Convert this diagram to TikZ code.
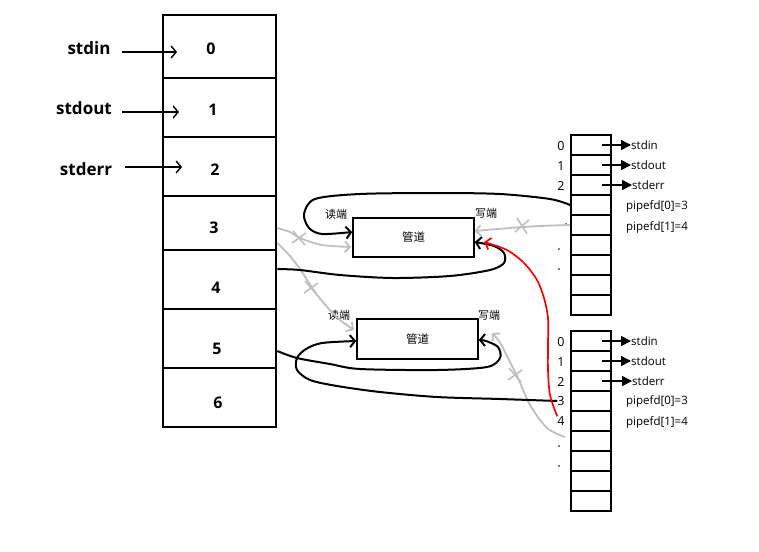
\documentclass[tikz,border=0pt]{standalone}
\usepackage{fontspec}
\setmainfont{Open Sans}
\newfontfamily\cjk{Noto Sans CJK SC}
\usetikzlibrary{arrows.meta,calc}
\begin{document}
\begin{tikzpicture}[x=1pt,y=-1pt,
  lcell/.style={draw, line width=2.6pt, minimum width=113pt, inner sep=0pt},
  rcell/.style={draw, line width=1.8pt, minimum width=40pt, minimum height=20pt, inner sep=0pt},
  pipebox/.style={draw, line width=1.5pt, minimum width=121pt, minimum height=39pt, inner sep=0pt, font=\cjk\fontsize{11.5}{11.5}\selectfont},
  bigtxt/.style={inner sep=0pt, font=\bfseries\fontsize{17}{17}\selectfont},
  numtxt/.style={inner sep=0pt, font=\fontsize{16}{16}\selectfont\bfseries},
  smalltxt/.style={inner sep=0pt, font=\fontsize{11.5}{11.5}\selectfont},
  cjktxt/.style={inner sep=0pt, font=\cjk\fontsize{11}{11}\selectfont},
  idxtxt/.style={inner sep=0pt, font=\fontsize{12.5}{12.5}\selectfont},
  larrow/.style={line width=2.6pt, -{Straight Barb[length=5pt,width=12pt,line width=1.4pt]}},
  rarrow/.style={line width=1.5pt, -{Triangle[length=10pt,width=10pt]}},
  hand/.style={line width=2pt, black, -{Straight Barb[length=5pt,width=12pt,line width=2pt]}},
  graycon/.style={line width=1.8pt, color=black!25, -{Straight Barb[length=5pt,width=11pt,line width=1.8pt]}},
  redcon/.style={line width=1.7pt, red, -{Straight Barb[length=5pt,width=12pt,line width=1.7pt]}},
  xmark/.style={line width=1.6pt, color=black!25},
  dotmk/.style={fill=black, circle, inner sep=0pt, minimum size=1.8pt}
]
\useasboundingbox[fill=white] (0,0) rectangle (759,551);

% left fd table
\node[lcell, minimum height=63pt] (L0) at (219.5,46.5) {};
\node[lcell, minimum height=59pt] (L1) at (219.5,107.5) {};
\node[lcell, minimum height=59pt] (L2) at (219.5,166.5) {};
\node[lcell, minimum height=54pt] (L3) at (219.5,223) {};
\node[lcell, minimum height=59pt] (L4) at (219.5,279.5) {};
\node[lcell, minimum height=59pt] (L5) at (219.5,338.5) {};
\node[lcell, minimum height=59pt] (L6) at (219.5,397.5) {};
\node[numtxt] (n0) at (211,49) {0};
\node[numtxt] (n1) at (213,110) {1};
\node[numtxt] (n2) at (215,170) {2};
\node[numtxt] (n3) at (214,228) {3};
\node[numtxt] (n4) at (216,288) {4};
\node[numtxt] (n5) at (217,349) {5};
\node[numtxt] (n6) at (218,403) {6};

\node[bigtxt] (sin) at (89,48) {stdin};
\node[bigtxt] (sout) at (84,108) {stdout};
\node[bigtxt] (serr) at (86,169) {stderr};
\coordinate (a0) at (177,52);
\coordinate (a1) at (179,112);
\coordinate (a2) at (182,167);
\draw[larrow] ([xshift=11pt]sin.east |- a0) -- (a0);
\draw[larrow] ([xshift=10pt]sout.east |- a1) -- (a1);
\draw[larrow] ([xshift=13pt]serr.east |- a2) -- (a2);

% right tables
\foreach \i in {0,...,8} {
  \node[rcell] (TA\i) at (591,145+20*\i) {};
  \node[rcell] (TB\i) at (591,341+20*\i) {};
}
\node[idxtxt] (ia0) at (561,146) {0};
\node[idxtxt] (ia1) at (561,166) {1};
\node[idxtxt] (ia2) at (561,186) {2};
\node[idxtxt] (ib0) at (561,342) {0};
\node[idxtxt] (ib1) at (561,362) {1};
\node[idxtxt] (ib2) at (561,382) {2};
\node[idxtxt] (ib3) at (561,401) {3};
\node[idxtxt] (ib4) at (561,421) {4};
\node[dotmk] (da1) at (566,224) {};
\node[dotmk] (da2) at (559,249) {};
\node[dotmk] (da3) at (559,269) {};
\node[dotmk] (db1) at (559,446) {};
\node[dotmk] (db2) at (559,466) {};

\node[smalltxt, anchor=west] (ra0) at (631,145) {stdin};
\node[smalltxt, anchor=west] (ra1) at (631,165) {stdout};
\node[smalltxt, anchor=west] (ra2) at (632,185) {stderr};
\node[smalltxt] (pa0) at (657,206) {pipefd[0]=3};
\node[smalltxt] (pa1) at (657,227) {pipefd[1]=4};
\node[smalltxt, anchor=west] (rb0) at (631,341) {stdin};
\node[smalltxt, anchor=west] (rb1) at (631,361) {stdout};
\node[smalltxt, anchor=west] (rb2) at (632,381) {stderr};
\node[smalltxt] (pb0) at (657,401) {pipefd[0]=3};
\node[smalltxt] (pb1) at (657,422) {pipefd[1]=4};
\draw[rarrow] ([xshift=11pt]TA0.center) -- (ra0.west);
\draw[rarrow] ([xshift=11pt]TA1.center) -- (ra1.west);
\draw[rarrow] ([xshift=11pt]TA2.center) -- (ra2.west);
\draw[rarrow] ([xshift=11pt]TB0.center) -- (rb0.west);
\draw[rarrow] ([xshift=11pt]TB1.center) -- (rb1.west);
\draw[rarrow] ([xshift=11pt]TB2.center) -- (rb2.west);

% pipes
\node[pipebox] (P1) at (413.5,237.5) {管道};
\node[pipebox, minimum height=40pt] (P2) at (417.5,339) {管道};
\node[cjktxt] (r1) at (336,214) {读端};
\node[cjktxt] (w1) at (486,213) {写端};
\node[cjktxt] (r2) at (339,315) {读端};
\node[cjktxt] (w2) at (489,315) {写端};

% gray crossed-out connectors
\draw[graycon] plot[smooth] coordinates {(L3.east |- 0,228) (290,232) (300,238) (322,245) (351,247)};
\draw[graycon] plot[smooth] coordinates {(L3.east |- 0,243) (290,256) (302,272) (315,292) (328,308) (340,320) (354,330)};
\draw[graycon] plot[smooth] coordinates {(TA4.west) (540,226) (510,228) (P1.east |- 0,231)};
\draw[graycon] plot[smooth] coordinates {(565,437) (547,428) (530,405) (518,378) (507,356) (499,341) (492,333)};
\draw[xmark] (299,238) +(-6,-7) -- +(6,7) +(-7,5) -- +(7,-5);
\draw[xmark] (311,288) +(-6,-7) -- +(6,7) +(-7,5) -- +(7,-5);
\draw[xmark] (522,226) +(-5,-8) -- +(5,8) +(-7,6) -- +(7,-6);
\draw[xmark] (515,375) +(-6,-7) -- +(6,7) +(-7,5) -- +(7,-5);

% black connectors
\draw[hand] plot[smooth] coordinates {(TA3.west) (550,199) (500,194) (437,193) (360,194) (315,199) (304,214) (309,228) (322,234) (P1.west |- 0,232)};
\draw[hand] plot[smooth] coordinates {(L4.east |- 0,269) (300,270) (340,275) (393,278) (450,276) (490,270) (504,263) (504,253) (494,246) (P1.east |- 0,242)};
\draw[hand] plot[smooth] coordinates {(L5.east |- 0,351) (297,358) (330,364) (360,369) (437,370) (487,367) (500,358) (498,347) (486,341) (P2.east |- 0,340)};
\draw[hand] plot[smooth] coordinates {(ib3.west) (500,399) (437,397) (380,392) (337,386) (310,380) (297,370) (297,358) (306,349) (322,343) (P2.west |- 0,341)};

% red connector
\draw[redcon] plot[smooth] coordinates {(ib4.north west) (550,395) (548,370) (548,345) (548,318) (544,298) (537,280) (524,263) (507,250) (484,242)};
\end{tikzpicture}
\end{document}
